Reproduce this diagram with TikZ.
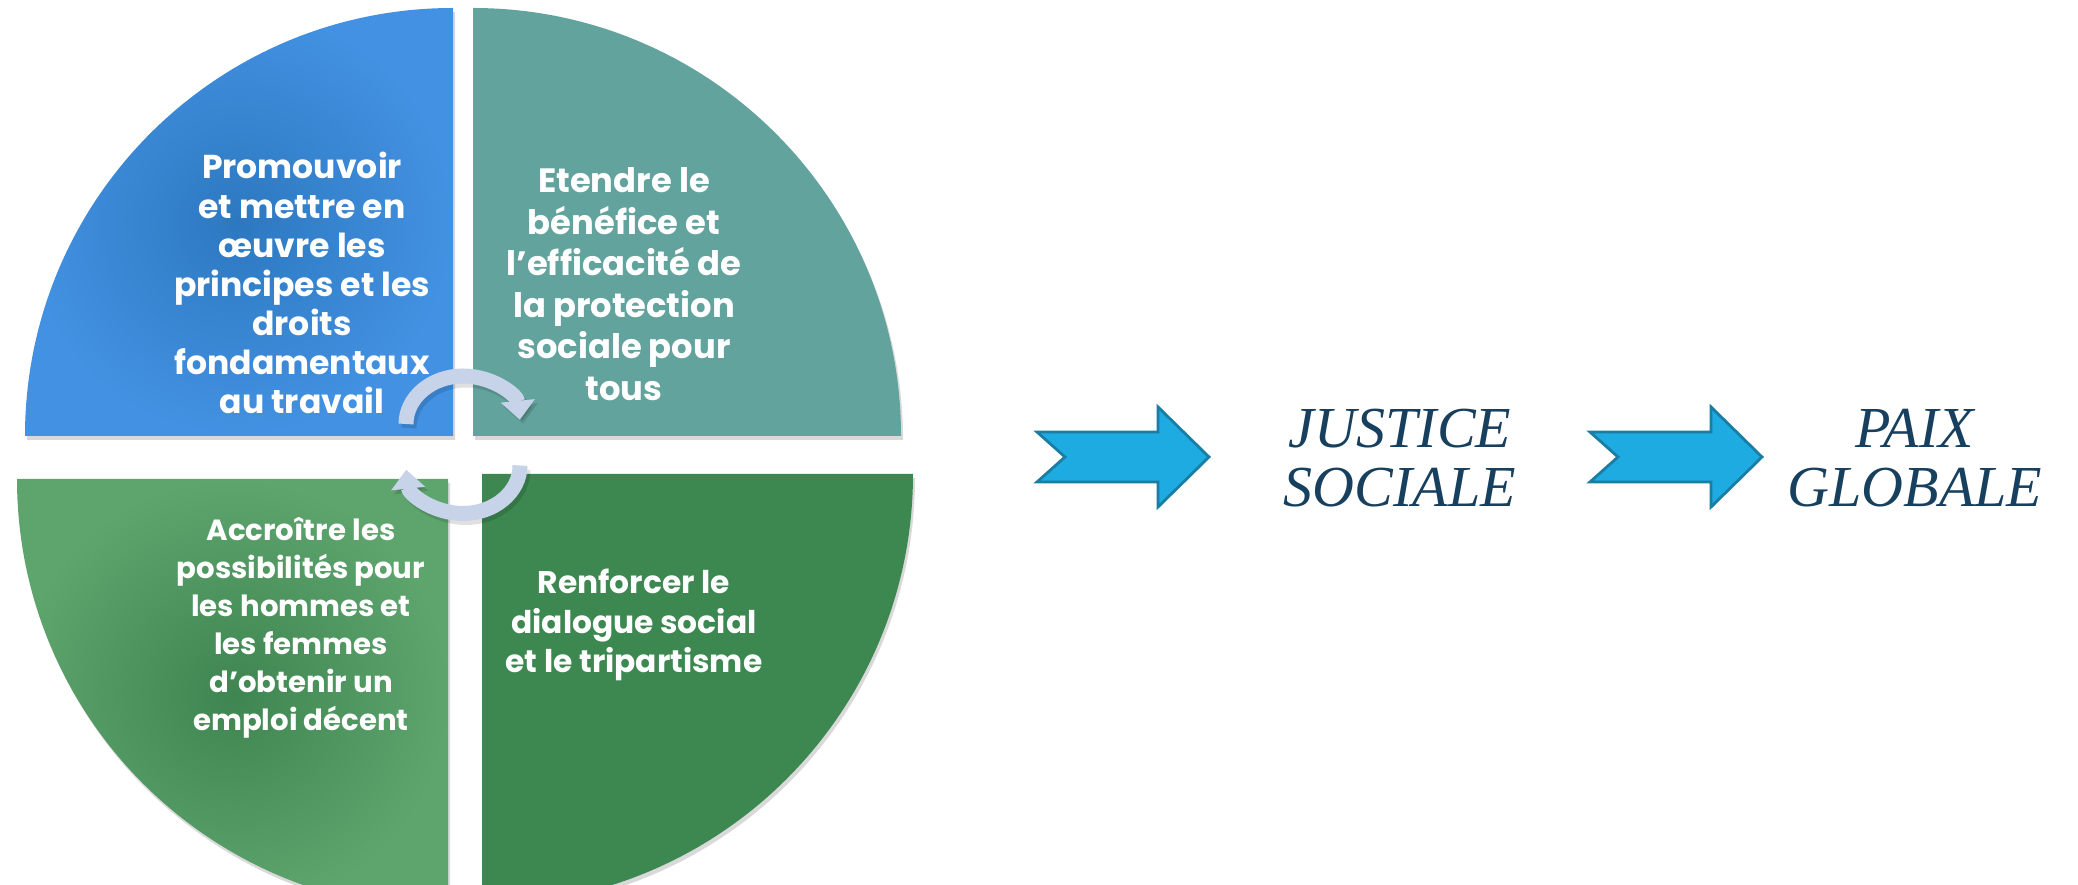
\documentclass[tikz,border=0pt]{standalone}
\usepackage{fontspec}
\setsansfont{Poppins}
\setmainfont{Liberation Serif}
\usetikzlibrary{positioning,arrows.meta,shadows}

\definecolor{quadblue}{HTML}{4391E2}
\definecolor{quadbluedark}{HTML}{2C78C0}
\definecolor{quadteal}{HTML}{62A39D}
\definecolor{quadgreen}{HTML}{5DA46D}
\definecolor{quadgreendark}{HTML}{3F8551}
\definecolor{quaddark}{HTML}{3D8751}
\definecolor{cyclecol}{HTML}{C7D3E8}
\definecolor{flowfill}{HTML}{1EABE2}
\definecolor{flowdraw}{HTML}{1A7DA3}
\definecolor{goalcol}{HTML}{17405E}

\tikzset{
  quad/.style={drop shadow={opacity=0.3,shadow xshift=0.02cm,shadow yshift=-0.04cm}},
  quadtext/.style n args={2}{text=white,align=center,inner sep=0pt,
    font=\sffamily\bfseries\fontsize{#1}{#2}\selectfont},
  goal/.style={text=goalcol,align=center,inner sep=0pt,
    font=\itshape\fontsize{16.5}{16.7}\selectfont},
  flow/.style={fill=flowfill,draw=flowdraw,line width=0.8pt,line join=miter},
  cyclearrow/.style={draw=cyclecol,line width=0.15cm,
    -{Triangle[width=0.33cm,length=0.19cm]}},
  cycleshadow/.style={draw=black,opacity=0.12,line width=0.15cm,
    -{Triangle[width=0.33cm,length=0.19cm]}},
  flowarrow/.pic={
    \path[flow] (0,25) -- (121,25) -- (121,50) -- (172,0) -- (121,-50)
      -- (121,-25) -- (0,-25) -- (28,0) -- cycle;
  }
}

\begin{document}
\begin{tikzpicture}[x=0.01cm,y=0.01cm]
  \useasboundingbox (0,0) rectangle (2078,885);
  \clip (0,0) rectangle (2078,885);

  % the four quarters
  \path[quad,shading=radial,inner color=quadbluedark,outer color=quadblue]
    (453,449) -- ++(-428,0) arc[start angle=180,end angle=90,radius=428] -- cycle;
  \path[quad,fill=quadteal]
    (473,449) -- ++(0,428) arc[start angle=90,end angle=0,radius=428] -- cycle;
  \path[quad,shading=radial,inner color=quadgreendark,outer color=quadgreen]
    (448,406) -- ++(-431,0) arc[start angle=180,end angle=270,radius=431] -- cycle;
  \path[quad,fill=quaddark]
    (482,411) -- ++(431,0) arc[start angle=0,end angle=-90,radius=431] -- cycle;

  % texts of the quarters
  \node[quadtext={9.4}{11.1}] (promo) at (302,602) {Promouvoir\\ et mettre en\\ œuvre les\\
    principes et les\\ droits\\ fondamentaux\\ au travail};
  \node[quadtext={9.6}{11.8}] (protect) at (624,601) {Etendre le\\ bénéfice et\\
    l’efficacité de\\ la protection\\ sociale pour\\ tous};
  \node[quadtext={8.3}{10.8}] (emploi) at (301,257) {Accroître les\\ possibilités pour\\
    les hommes et\\ les femmes\\ d’obtenir un\\ emploi décent};
  \node[quadtext={8.9}{11.2}] (dialogue) at (634,260) {Renforcer le\\ dialogue social\\
    et le tripartisme};

  % cycle in the middle
  \coordinate (cyctop) at (406,461);
  \coordinate (cycbot) at (520,419.5);
  \draw[cycleshadow] ([shift={(3,-4)}]cyctop) arc[start angle=180,end angle=5,x radius=57,y radius=48];
  \draw[cycleshadow] ([shift={(3,-4)}]cycbot) arc[start angle=0,end angle=-175,x radius=57,y radius=48];
  \draw[cyclearrow] (cyctop) arc[start angle=180,end angle=5,x radius=57,y radius=48];
  \draw[cyclearrow] (cycbot) arc[start angle=0,end angle=-175,x radius=57,y radius=48];

  % outcome
  \node[goal] (justice) at (1400,427) {JUSTICE\\ SOCIALE};
  \node[goal] (paix) at (1915,427) {PAIX\\ GLOBALE};

  \coordinate (flow1) at (1037,428);
  \coordinate (flow2) at (1590,428);
  \pic at (flow1) {flowarrow};
  \pic at (flow2) {flowarrow};
\end{tikzpicture}
\end{document}
